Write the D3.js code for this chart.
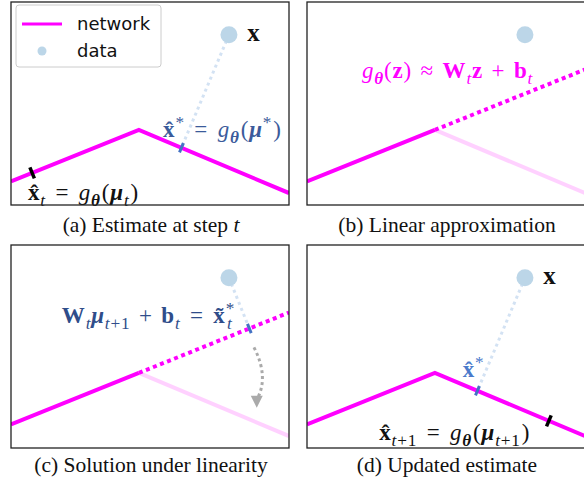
<!DOCTYPE html>
<html>
<head>
<meta charset="utf-8">
<script src="https://cdn.jsdelivr.net/npm/d3@7"></script>
<style>
  body { margin: 0; background: #fff; }
</style>
</head>
<body>
<svg id="fig" width="584" height="484"></svg>
<script>
// network polyline and data point, in data units
const network = [[0, 0.85], [4.6, 2.7], [10, 0.43]];
const dataPoint = [7.84, 6.12];
const estimateX = [0.76, 8.7];          // x-position of x̂_t and x̂_{t+1} on the network
const arrowFrom = [8.74, 3.62];
const arrowTo = [8.84, 1.45];
const captions = [
  ["(a) Estimate at step ", "t"],
  ["(b) Linear approximation", ""],
  ["(c) Solution under linearity", ""],
  ["(d) Updated estimate", ""]
];
const legendItems = ["network", "data"];

const W = 278, H = 203;
const panelPos = [[11, 2], [307, 2], [11, 245], [307, 245]];
const magenta = "#ff00ff";
const dotBlue = "#bcd6e8";
const lineBlue = "#d3e2f3";
const tickBlue = "#4472c4";
const mathSize = 23;

const x = d3.scaleLinear().domain([0, 10]).range([0, W]);
const y = d3.scaleLinear().domain([0, 7.3]).range([H, 0]);
const line = d3.line().x(d => x(d[0])).y(d => y(d[1]));

const svg = d3.select("#fig");

// geometry helpers (pixel space)
const P = d => [x(d[0]), y(d[1])];
function project(p, a, b) {
  const [px, py] = P(p), [ax, ay] = P(a), [bx, by] = P(b);
  const dx = bx - ax, dy = by - ay, L = Math.hypot(dx, dy);
  const ux = dx / L, uy = dy / L;
  const s = (px - ax) * ux + (py - ay) * uy;
  return { pt: [ax + s * ux, ay + s * uy], dir: [ux, uy] };
}
function onNetwork(xv) {
  const i = xv < network[1][0] ? 0 : 1;
  const a = network[i], b = network[i + 1];
  const yv = a[1] + (b[1] - a[1]) * (xv - a[0]) / (b[0] - a[0]);
  const [ax, ay] = P(a), [bx, by] = P(b), L = Math.hypot(bx - ax, by - ay);
  return { pt: P([xv, yv]), dir: [(bx - ax) / L, (by - ay) / L] };
}
function tick(g, m, len, color, width) {
  const nx = -m.dir[1] * len / 2, ny = m.dir[0] * len / 2;
  g.append("line")
    .attr("x1", m.pt[0] - nx).attr("y1", m.pt[1] - ny)
    .attr("x2", m.pt[0] + nx).attr("y2", m.pt[1] + ny)
    .attr("stroke", color).attr("stroke-width", width);
}
function dotted(g, from, to) {
  g.append("line")
    .attr("x1", from[0]).attr("y1", from[1]).attr("x2", to[0]).attr("y2", to[1])
    .attr("stroke", lineBlue).attr("stroke-width", 3)
    .attr("stroke-dasharray", "3,3.5");
}
// small math-like text: parts are [text, style, dx]; style b=bold i=italic _=sub ^=sup
function math(g, pos, parts, color, size) {
  const t = g.append("text")
    .attr("x", x(pos[0])).attr("y", y(pos[1]))
    .attr("fill", color)
    .style("font-family", "'Liberation Serif', serif")
    .style("font-size", size + "px")
    .style("letter-spacing", "0.8px");
  let shift = 0;
  parts.forEach(([txt, st, dx]) => {
    const level = st.includes("_") ? 0.25 * size : st.includes("^") ? -0.38 * size : 0;
    const ts = t.append("tspan").text(txt).attr("dy", level - shift);
    if (dx) ts.attr("dx", dx);
    shift = level;
    if (level) ts.style("font-size", (size * 0.75) + "px");
    if (st.includes("b")) ts.style("font-weight", "bold");
    if (st.includes("i")) ts.style("font-style", "italic");
  });
}

const hat = "x\u0302", tilde = "x\u0303";
const eq = [" = ", "", 3], plus = [" + ", "", 2];
const labels = {
  x: [["x", "b"]],
  star: [[hat, "b"], ["*", "^"], eq, ["g", "i", 3], ["θ", "bi_"], ["(", "", 1], ["μ", "bi"], ["*", "^"], [")", "", 1]],
  est: [[hat, "b"], ["t", "i_"], eq, ["g", "i", 3], ["θ", "bi_"], ["(", "", 1], ["μ", "bi"], ["t", "i_"], [")", "", 1]],
  lin: [["g", "i"], ["θ", "bi_"], ["(", ""], ["z", "b"], [")", ""], [" ≈ ", "", 2], ["W", "b", 2], ["t", "i_"], ["z", "b"], plus, ["b", "b", 2], ["t", "i_"]],
  sol: [["W", "b"], ["t", "i_"], ["μ", "bi"], ["t", "i_"], ["+1", "_"], plus, ["b", "b", 2], ["t", "i_"], eq, [tilde, "b", 3], ["*", "^"], ["t", "i_", -8]],
  star2: [[hat, "b"], ["*", "^"]],
  est2: [[hat, "b"], ["t", "i_"], ["+1", "_"], eq, ["g", "i", 3], ["θ", "bi_"], ["(", "", 1], ["μ", "bi"], ["t", "i_"], ["+1", "_"], [")", "", 1]]
};

svg.append("defs").append("clipPath").attr("id", "clip")
  .append("rect").attr("width", W).attr("height", H);

panelPos.forEach((pp, k) => {
  const g = svg.append("g").attr("transform", `translate(${pp[0]},${pp[1]})`);
  const plot = g.append("g").attr("clip-path", "url(#clip)");
  const dp = P(dataPoint);
  const linearised = k === 1 || k === 2;

  if (linearised) {
    const slope = (network[1][1] - network[0][1]) / (network[1][0] - network[0][0]);
    const ext = [network[1], [10, network[1][1] + slope * (10 - network[1][0])]];
    plot.append("path").attr("d", line(network.slice(1))).attr("fill", "none")
      .attr("stroke", magenta).attr("stroke-opacity", 0.18).attr("stroke-width", 4);
    plot.append("path").attr("d", line(network.slice(0, 2))).attr("fill", "none")
      .attr("stroke", magenta).attr("stroke-width", 4);
    plot.append("path").attr("d", line(ext)).attr("fill", "none")
      .attr("stroke", magenta).attr("stroke-width", 4).attr("stroke-dasharray", "4,3.6");
  } else {
    plot.append("path").attr("d", line(network)).attr("fill", "none")
      .attr("stroke", magenta).attr("stroke-width", 4).attr("stroke-linejoin", "miter");
  }

  if (k === 0 || k === 3) {
    const pr = project(dataPoint, network[1], network[2]);
    dotted(plot, dp, pr.pt);
    tick(plot, pr, 10, tickBlue, 3);
    const est = onNetwork(estimateX[k === 0 ? 0 : 1]);
    tick(plot, est, 12, "#000", 3.5);
    math(g, [8.5, 5.9], labels.x, "#111", 25);
    if (k === 0) {
      math(g, [5.47, 2.45], labels.star, "#3b5b9b", mathSize);
      math(g, [0.61, 0.18], labels.est, "#111", mathSize);
    } else {
      math(g, [5.6, 2.55], labels.star2, "#4a7acb", mathSize);
      math(g, [2.6, 0.29], labels.est2, "#111", mathSize);
    }
  }
  if (k === 1) {
    math(g, [1.98, 4.57], labels.lin, magenta, mathSize);
  }
  if (k === 2) {
    const pr = project(dataPoint, network[0], network[1]);
    dotted(plot, dp, pr.pt);
    tick(plot, pr, 10, tickBlue, 3);
    math(g, [1.83, 4.5], labels.sol, "#2f4d8a", mathSize);
    // curved arrow toward the updated estimate
    const a = P(arrowFrom), b = P(arrowTo);
    const c = [(a[0] + b[0]) / 2 + 14, (a[1] + b[1]) / 2];
    plot.append("path")
      .attr("d", `M${a[0]},${a[1]} Q${c[0]},${c[1]} ${b[0]},${b[1] - 8}`)
      .attr("fill", "none").attr("stroke", "#aaaaaa").attr("stroke-width", 3)
      .attr("stroke-dasharray", "3,3");
    plot.append("path")
      .attr("d", `M${b[0]},${b[1]} l-6,-12 l12,0 z`)
      .attr("fill", "#aaaaaa");
  }

  plot.append("circle").attr("cx", dp[0]).attr("cy", dp[1]).attr("r", 8.5).attr("fill", dotBlue);

  if (k === 0) {
    const lg = g.append("g").attr("transform", "translate(5,3)");
    lg.append("rect").attr("width", 145).attr("height", 62).attr("rx", 3)
      .attr("fill", "#fff").attr("fill-opacity", 0.85).attr("stroke", "#cccccc");
    lg.append("line").attr("x1", 6).attr("x2", 46).attr("y1", 19).attr("y2", 19)
      .attr("stroke", magenta).attr("stroke-width", 3);
    lg.append("circle").attr("cx", 26).attr("cy", 46).attr("r", 4.5).attr("fill", dotBlue);
    lg.selectAll(".lt").data(legendItems).join("text").attr("class", "lt")
      .attr("x", 61).attr("y", (d, i) => 25 + i * 27)
      .style("font-family", "'DejaVu Sans', sans-serif").style("font-size", "18px")
      .attr("fill", "#111").text(d => d);
  }

  g.append("rect").attr("width", W).attr("height", H)
    .attr("fill", "none").attr("stroke", "#222").attr("stroke-width", 1.3);

  const cap = g.append("text").attr("x", W / 2 + 1).attr("y", k < 2 ? 230 : 227)
    .attr("text-anchor", "middle")
    .style("font-family", "'Liberation Serif', serif").style("font-size", "21.5px")
    .attr("fill", "#111");
  cap.append("tspan").text(captions[k][0]);
  if (captions[k][1]) cap.append("tspan").style("font-style", "italic").text(captions[k][1]);
});
</script>
</body>
</html>
